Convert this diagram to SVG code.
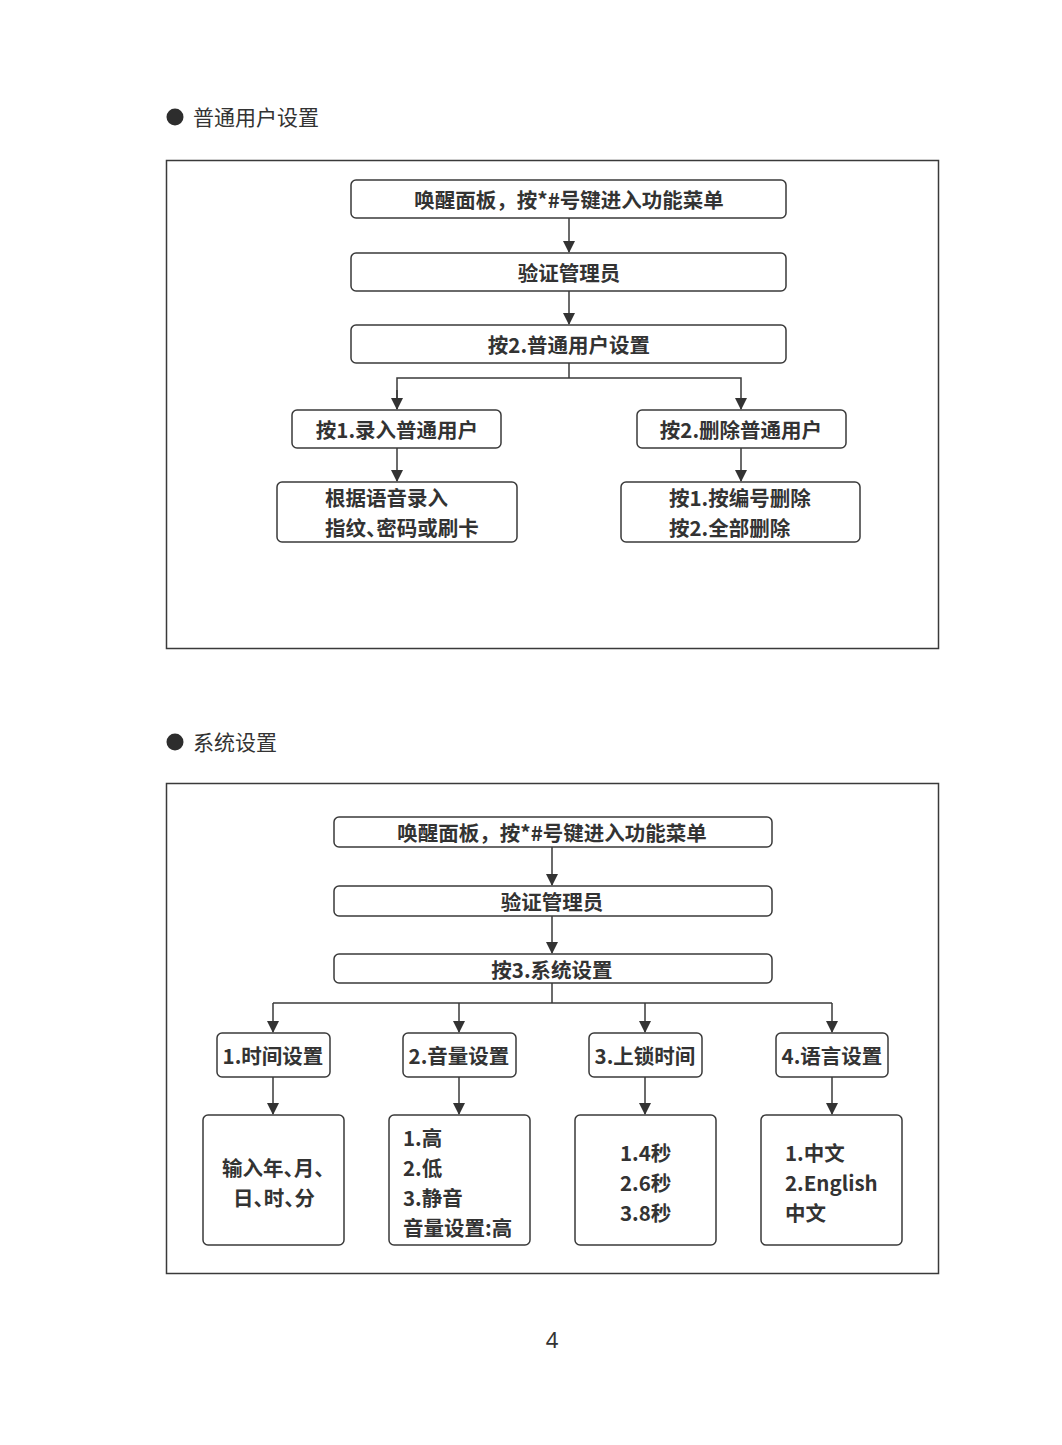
<svg xmlns="http://www.w3.org/2000/svg" width="1062" height="1445" viewBox="0 0 1062 1445">
<style>
.frame{fill:none;stroke:#3a3a3a;stroke-width:1.5}
.box{fill:#fff;stroke:#3a3a3a;stroke-width:1.5}
.t{font-family:"Noto Sans CJK SC","Noto Sans",sans-serif;font-weight:bold;font-size:20.5px;fill:#333;dominant-baseline:central}
.c{text-anchor:middle}
.p{font-feature-settings:"palt"}
.h{font-family:"Noto Sans CJK SC","Noto Sans",sans-serif;font-size:21px;fill:#333}
.ln{fill:none;stroke:#3a3a3a;stroke-width:1.5}
</style>
<defs>
<marker id="ah" viewBox="0 0 12 12" refX="11" refY="6" markerWidth="12" markerHeight="12" markerUnits="userSpaceOnUse" orient="auto">
<path d="M0,0 L12,6 L0,12 Z" fill="#333"/>
</marker>
</defs>
<rect width="1062" height="1445" fill="#fff"/>

<g id="title1">
<circle cx="175" cy="117" r="8.5" fill="#2d2d2d"/>
<text class="h" x="193" y="125">普通用户设置</text>
</g>
<rect class="frame" x="166.5" y="160.5" width="772" height="488"/>

<g id="connectors1">
<line class="ln" x1="569" y1="218" x2="569" y2="252" marker-end="url(#ah)"/>
<line class="ln" x1="569" y1="291" x2="569" y2="324" marker-end="url(#ah)"/>
<polyline class="ln" points="569,363 569,378"/>
<polyline class="ln" points="397,409 397,378 741,378 741,409" marker-end="url(#ah)"/>
<line class="ln" x1="397" y1="390" x2="397" y2="409" marker-end="url(#ah)"/>
<line class="ln" x1="397" y1="448" x2="397" y2="481" marker-end="url(#ah)"/>
<line class="ln" x1="741" y1="448" x2="741" y2="481" marker-end="url(#ah)"/>
</g>

<g id="n1a"><rect class="box" x="351" y="180" width="435" height="38" rx="5"/><text class="t c" x="569" y="199">唤醒面板，按*#号键进入功能菜单</text></g>
<g id="n1b"><rect class="box" x="351" y="253" width="435" height="38" rx="5"/><text class="t c" x="569" y="272">验证管理员</text></g>
<g id="n1c"><rect class="box" x="351" y="325" width="435" height="38" rx="5"/><text class="t c" x="569" y="344">按2.普通用户设置</text></g>
<g id="n1d"><rect class="box" x="292" y="410" width="209" height="38" rx="5"/><text class="t c" x="397" y="429">按1.录入普通用户</text></g>
<g id="n1e"><rect class="box" x="637" y="410" width="209" height="38" rx="5"/><text class="t c" x="741" y="429">按2.删除普通用户</text></g>
<g id="n1f"><rect class="box" x="277" y="482" width="240" height="60" rx="5"/><text class="t" x="325" y="497">根据语音录入</text><text class="t p" x="325" y="527">指纹、密码或刷卡</text></g>
<g id="n1g"><rect class="box" x="621" y="482" width="239" height="60" rx="5"/><text class="t" x="669" y="497">按1.按编号删除</text><text class="t" x="669" y="527">按2.全部删除</text></g>

<g id="title2">
<circle cx="175" cy="742" r="8.5" fill="#2d2d2d"/>
<text class="h" x="193" y="750">系统设置</text>
</g>
<rect class="frame" x="166.5" y="783.5" width="772" height="490"/>

<g id="connectors2">
<line class="ln" x1="552" y1="847" x2="552" y2="885" marker-end="url(#ah)"/>
<line class="ln" x1="552" y1="916" x2="552" y2="953" marker-end="url(#ah)"/>
<polyline class="ln" points="552,983 552,1003"/>
<polyline class="ln" points="273,1003 832,1003"/>
<line class="ln" x1="273" y1="1003" x2="273" y2="1032" marker-end="url(#ah)"/>
<line class="ln" x1="459" y1="1003" x2="459" y2="1032" marker-end="url(#ah)"/>
<line class="ln" x1="645" y1="1003" x2="645" y2="1032" marker-end="url(#ah)"/>
<line class="ln" x1="832" y1="1003" x2="832" y2="1032" marker-end="url(#ah)"/>
<line class="ln" x1="273" y1="1077" x2="273" y2="1114" marker-end="url(#ah)"/>
<line class="ln" x1="459" y1="1077" x2="459" y2="1114" marker-end="url(#ah)"/>
<line class="ln" x1="645" y1="1077" x2="645" y2="1114" marker-end="url(#ah)"/>
<line class="ln" x1="832" y1="1077" x2="832" y2="1114" marker-end="url(#ah)"/>
</g>

<g id="n2a"><rect class="box" x="334" y="817" width="438" height="30" rx="5"/><text class="t c" x="552" y="832">唤醒面板，按*#号键进入功能菜单</text></g>
<g id="n2b"><rect class="box" x="334" y="886" width="438" height="30" rx="5"/><text class="t c" x="552" y="901">验证管理员</text></g>
<g id="n2c"><rect class="box" x="334" y="954" width="438" height="29" rx="5"/><text class="t c" x="552" y="969">按3.系统设置</text></g>

<g id="n2d"><rect class="box" x="217" y="1033" width="113" height="44" rx="5"/><text class="t c" x="273" y="1055">1.时间设置</text></g>
<g id="n2e"><rect class="box" x="403" y="1033" width="113" height="44" rx="5"/><text class="t c" x="459" y="1055">2.音量设置</text></g>
<g id="n2f"><rect class="box" x="589" y="1033" width="113" height="44" rx="5"/><text class="t c" x="645" y="1055">3.上锁时间</text></g>
<g id="n2g"><rect class="box" x="776" y="1033" width="112" height="44" rx="5"/><text class="t c" x="832" y="1055">4.语言设置</text></g>

<g id="n2h"><rect class="box" x="203" y="1115" width="141" height="130" rx="5"/><text class="t p" x="222" y="1167">输入年、月、</text><text class="t p" x="233" y="1197">日、时、分</text></g>
<g id="n2i"><rect class="box" x="389" y="1115" width="141" height="130" rx="5"/><text class="t" x="403" y="1137">1.高</text><text class="t" x="403" y="1167">2.低</text><text class="t" x="403" y="1197">3.静音</text><text class="t" x="403" y="1227">音量设置:高</text></g>
<g id="n2j"><rect class="box" x="575" y="1115" width="141" height="130" rx="5"/><text class="t" x="620" y="1152">1.4秒</text><text class="t" x="620" y="1182">2.6秒</text><text class="t" x="620" y="1212">3.8秒</text></g>
<g id="n2k"><rect class="box" x="761" y="1115" width="141" height="130" rx="5"/><text class="t" x="785" y="1152">1.中文</text><text class="t" x="785" y="1182">2.English</text><text class="t" x="785" y="1212">中文</text></g>

<text x="552" y="1348" text-anchor="middle" font-family="'Noto Sans','Liberation Sans',sans-serif" font-size="22" fill="#333">4</text>
</svg>
